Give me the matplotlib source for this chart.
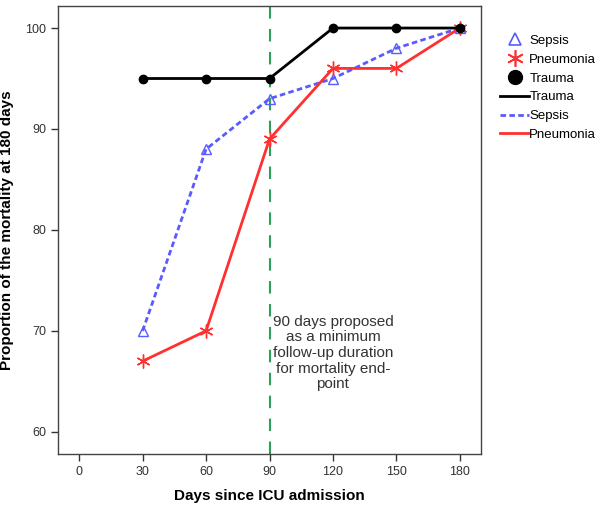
import matplotlib
matplotlib.use("Agg")
import matplotlib.pyplot as plt
from matplotlib.lines import Line2D

days = [30, 60, 90, 120, 150, 180]
trauma = [95, 95, 95, 100, 100, 100]
sepsis = [70, 88, 93, 95, 98, 100]
pneumonia = [67, 70, 89, 96, 96, 100]
xticks = [0, 30, 60, 90, 120, 150, 180]
yticks = [60, 70, 80, 90, 100]

plt.rcParams['font.family'] = ['Liberation Sans', 'DejaVu Sans']

fig = plt.figure(figsize=(6, 5.07), dpi=100)
ax = fig.add_axes([0.0967, 0.1045, 0.705, 0.884])

blue = '#5a5aff'
red = '#ff3030'
green = '#2ca05a'

ax.axvline(90, color=green, lw=1.5, ls=(0, (6, 5)), zorder=1)
ax.plot(days, trauma, color='black', lw=2, marker='o', ms=6, zorder=3)
ax.plot(days, sepsis, color=blue, lw=2, ls=(0, (2, 1.2)), marker='^', ms=7,
        mfc='none', mec=blue, mew=1, zorder=2)
ax.plot(days, pneumonia, color=red, lw=2, marker=(6, 2, 0), ms=10,
        mec=red, mew=1, zorder=2)

ax.set_xlim(-10, 190)
ax.set_ylim(57.8, 102.2)
ax.set_xticks(xticks)
ax.set_yticks(yticks)
ax.tick_params(colors='#333333', labelsize=9, length=5, width=1)
for s in ax.spines.values():
    s.set_color('#444444')
    s.set_linewidth(1)

ax.set_xlabel('Days since ICU admission', fontsize=11, fontweight='bold', labelpad=8)
ax.set_ylabel('Proportion of the mortality at 180 days', fontsize=11, fontweight='bold', labelpad=8)

ax.text(120, 67.8, '90 days proposed\nas a minimum\nfollow-up duration\nfor mortality end-\npoint',
        ha='center', va='center', fontsize=11, color='#333333', linespacing=1.15)

handles = [
    Line2D([], [], ls='none', marker='^', ms=9, mfc='none', mec=blue, mew=1.2),
    Line2D([], [], ls='none', marker=(6, 2, 0), ms=12, mec=red, mew=1.2),
    Line2D([], [], ls='none', marker='o', ms=10, color='black'),
    Line2D([], [], color='black', lw=2),
    Line2D([], [], color=blue, lw=2, ls=(0, (2, 1.2))),
    Line2D([], [], color=red, lw=2),
]
labels = ['Sepsis', 'Pneumonia', 'Trauma', 'Trauma', 'Sepsis', 'Pneumonia']
fig.legend(handles, labels, loc='upper left', bbox_to_anchor=(0.825, 0.942),
           frameon=False, fontsize=9.5, handlelength=2.2, handletextpad=0.0,
           labelspacing=0.5, borderaxespad=0)

fig.savefig('out.png', dpi=100)
